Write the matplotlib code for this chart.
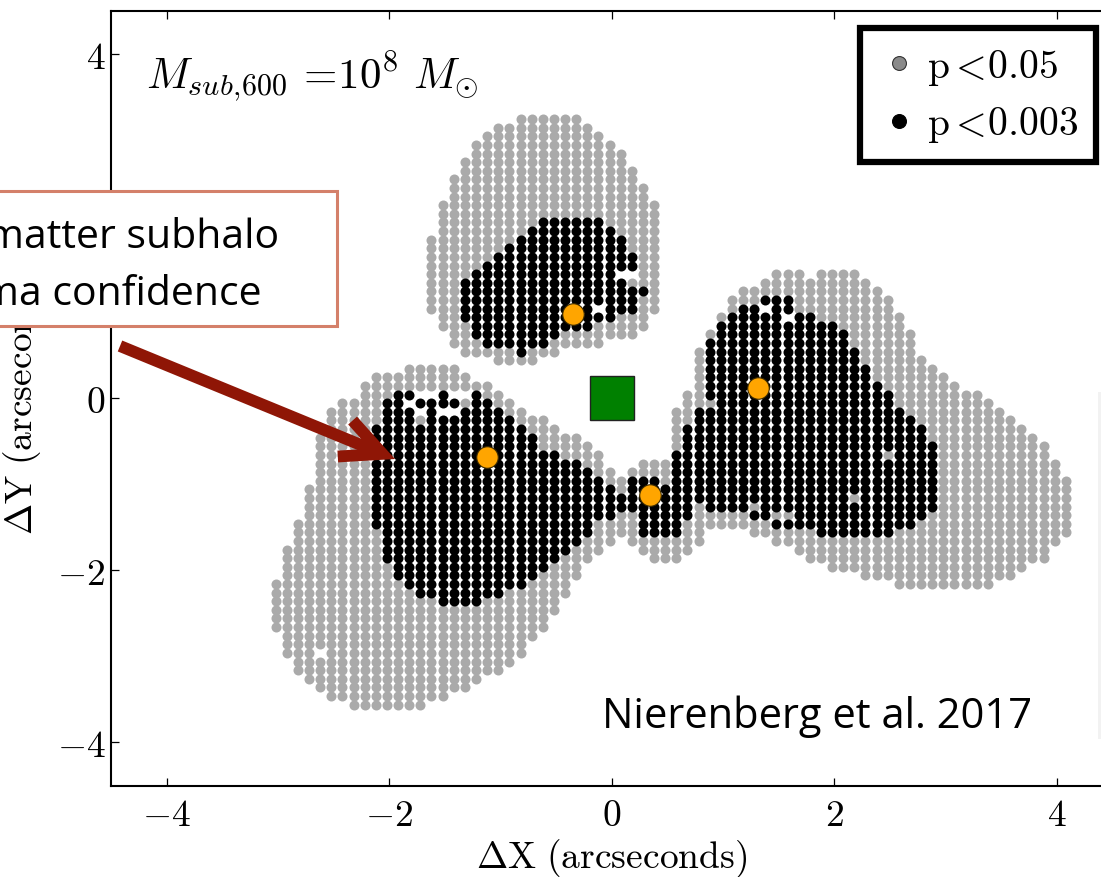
import numpy as np
import matplotlib
matplotlib.use("Agg")
import matplotlib.pyplot as plt
from matplotlib.lines import Line2D
from matplotlib.patches import Rectangle, FancyArrowPatch
from matplotlib.ticker import FuncFormatter

# ---- data (0.1" grid, one entry per column) ----
# lower region (left lobe + neck + right lobe), p < 0.05
low_x = [-3.0, -2.9, -2.8, -2.7, -2.6, -2.5, -2.4, -2.3, -2.2, -2.1, -2.0, -1.9,
         -1.8, -1.7, -1.6, -1.5, -1.4, -1.3, -1.2, -1.1, -1.0, -0.9, -0.8, -0.7,
         -0.6, -0.5, -0.4, -0.3, -0.2, -0.1, 0.0, 0.1, 0.2, 0.3, 0.4, 0.5,
         0.6, 0.7, 0.8, 0.9, 1.0, 1.1, 1.2, 1.3, 1.4, 1.5, 1.6, 1.7,
         1.8, 1.9, 2.0, 2.1, 2.2, 2.3, 2.4, 2.5, 2.6, 2.7, 2.8, 2.9,
         3.0, 3.1, 3.2, 3.3, 3.4, 3.5, 3.6, 3.7, 3.8, 3.9, 4.0, 4.1]
low_gray_lo = [-2.7, -3.0, -3.2, -3.3, -3.4, -3.5, -3.5, -3.6, -3.6, -3.6, -3.6, -3.6,
               -3.6, -3.6, -3.5, -3.5, -3.4, -3.4, -3.3, -3.2, -3.2, -3.1, -3.0, -2.8,
               -2.7, -2.5, -2.3, -2.1, -1.9, -1.8, -1.7, -1.6, -1.7, -1.8, -1.9, -1.9,
               -1.9, -1.8, -1.7, -1.5, -1.5, -1.5, -1.5, -1.6, -1.6, -1.7, -1.7, -1.8,
               -1.9, -1.9, -2.0, -2.0, -2.0, -2.1, -2.1, -2.1, -2.2, -2.2, -2.2, -2.2,
               -2.2, -2.2, -2.2, -2.2, -2.2, -2.1, -2.1, -2.0, -1.9, -1.9, -1.7, -1.6]
low_gray_hi = [-2.2, -1.8, -1.5, -1.1, -0.5, -0.2, -0.1, -0.1, 0.1, 0.2, 0.2, 0.2,
               0.3, 0.3, 0.3, 0.3, 0.3, 0.2, 0.1, 0.1, 0.0, -0.1, -0.2, -0.3,
               -0.3, -0.4, -0.5, -0.5, -0.6, -0.7, -0.9, -1.0, -0.9, -0.8, -0.8, -0.8,
               -0.2, 0.0, 0.5, 0.7, 0.9, 1.1, 1.2, 1.2, 1.3, 1.4, 1.4, 1.4,
               1.3, 1.4, 1.4, 1.4, 1.4, 1.3, 1.2, 1.1, 0.9, 0.7, 0.4, 0.3,
               0.2, 0.1, 0.0, 0.0, -0.1, -0.2, -0.3, -0.4, -0.5, -0.6, -0.8, -1.0]

# upper lobe, p < 0.05
top_x = [-1.6, -1.5, -1.4, -1.3, -1.2, -1.1, -1.0, -0.9, -0.8, -0.7, -0.6,
         -0.5, -0.4, -0.3, -0.2, -0.1, 0.0, 0.1, 0.2, 0.3, 0.4]
top_gray_lo = [1.0, 0.8, 0.6, 0.5, 0.5, 0.5, 0.4, 0.4, 0.4, 0.4, 0.5,
               0.5, 0.6, 0.6, 0.6, 0.6, 0.7, 0.7, 0.7, 0.8, 1.0]
top_gray_hi = [1.8, 2.2, 2.5, 2.7, 2.9, 3.0, 3.1, 3.1, 3.2, 3.2, 3.2,
               3.2, 3.2, 3.2, 3.1, 3.0, 2.9, 2.8, 2.6, 2.4, 2.2]

# upper lobe, p < 0.003
top_black_x = [-1.3, -1.2, -1.1, -1.0, -0.9, -0.8, -0.7, -0.6, -0.5,
               -0.4, -0.3, -0.2, -0.1, 0.0, 0.1, 0.2, 0.3]
top_black_lo = [0.9, 0.7, 0.6, 0.6, 0.6, 0.5, 0.6, 0.6, 0.7,
                0.8, 0.8, 0.8, 0.9, 0.9, 1.0, 1.0, 1.2]
top_black_hi = [1.3, 1.4, 1.5, 1.6, 1.7, 1.8, 1.9, 2.0, 2.0,
                2.0, 2.0, 2.0, 2.0, 1.9, 1.8, 1.6, 1.2]

# lower region, p < 0.003
low_black_x = [-2.1, -2.0, -1.9, -1.8, -1.7, -1.6, -1.5, -1.4, -1.3, -1.2, -1.1,
               -1.0, -0.9, -0.8, -0.7, -0.6, -0.5, -0.4, -0.3, -0.2, -0.1, 0.0,
               0.1, 0.2, 0.3, 0.4, 0.5, 0.6, 0.7, 0.8, 0.9, 1.0, 1.1,
               1.2, 1.3, 1.4, 1.5, 1.6, 1.7, 1.8, 1.9, 2.0, 2.1,
               2.2, 2.3, 2.4, 2.5, 2.6, 2.7, 2.8, 2.9]
low_black_lo = [-1.5, -1.9, -2.1, -2.2, -2.3, -2.3, -2.4, -2.4, -2.4, -2.4, -2.3,
                -2.3, -2.2, -2.2, -2.1, -2.0, -1.9, -1.8, -1.7, -1.6, -1.4, -1.4,
                -1.3, -1.3, -1.6, -1.6, -1.6, -1.6, -1.4, -1.2, -1.3, -1.3, -1.3,
                -1.3, -1.4, -1.4, -1.5, -1.5, -1.5, -1.5, -1.6, -1.6, -1.6,
                -1.6, -1.6, -1.6, -1.6, -1.5, -1.5, -1.4, -1.3]
low_black_hi = [-0.4, -0.1, 0.0, -0.2, -0.4, -0.3, -0.3, -0.3, -0.2, 0.0, -0.1,
                -0.2, -0.3, -0.4, -0.5, -0.7, -0.7, -0.8, -0.8, -0.9, -1.0, -1.1,
                -1.2, -1.0, -1.0, -1.0, -1.1, -0.7, -0.4, -0.2, 0.6, 0.8, 0.9,
                1.0, 1.0, 1.1, 1.1, 1.1, 0.9, 0.9, 0.8, 0.8, 0.7,
                0.5, 0.3, 0.1, 0.0, -0.2, -0.3, -0.4, -0.6]

# isolated cells
extra_black = [(-1.8, 0.0), (-1.7, -0.1), (-1.6, -0.1), (-1.6, -0.2),
               (-1.5, 0.0), (-1.5, -0.1), (-1.4, -0.1)]
gray_spots = [(0.9, -0.1), (2.5, -0.7), (2.2, -1.2), (1.3, -1.3),
              (1.5, -1.4), (1.6, -1.4), (0.2, 1.3)]
white_spots = [(-1.8, -0.1), (-1.7, 0.0), (-1.7, -0.2), (-1.6, 0.0),
               (-1.5, -0.2), (-1.4, 0.0), (-1.4, -0.2), (-1.3, 0.0),
               (-0.1, 1.0), (0.1, 1.4), (0.2, 1.4), (1.6, 0.9), (1.4, 1.0),
               (-2.6, -3.0)]

# lensed images and lens centre
image_x = [-0.35, 1.31, -1.12, 0.34]
image_y = [0.98, 0.12, -0.68, -1.12]
lens_x = [0.0]
lens_y = [0.0]

legend_labels = [r'$\mathrm{p}<\!0.05$', r'$\mathrm{p}<\!0.003$']


def cells(xs, lo, hi):
    out = set()
    for x, a, b in zip(xs, lo, hi):
        for r in range(int(round(a * 10)), int(round(b * 10)) + 1):
            out.add((int(round(x * 10)), r))
    return out


def key(pts):
    return {(int(round(x * 10)), int(round(y * 10))) for x, y in pts}


black = cells(low_black_x, low_black_lo, low_black_hi) | cells(top_black_x, top_black_lo, top_black_hi)
black |= key(extra_black)
black -= key(gray_spots) | key(white_spots)
gray = cells(low_x, low_gray_lo, low_gray_hi) | cells(top_x, top_gray_lo, top_gray_hi)
gray |= key(gray_spots)
gray -= black | key(white_spots)

# grid sits slightly off the round values
dx, dy = -0.02, 0.04
gx = np.array([c[0] for c in sorted(gray)]) / 10 + dx
gy = np.array([c[1] for c in sorted(gray)]) / 10 + dy
bx = np.array([c[0] for c in sorted(black)]) / 10 + dx
by = np.array([c[1] for c in sorted(black)]) / 10 + dy

plt.rcParams['mathtext.fontset'] = 'cm'
W, H = 1101, 878
fig = plt.figure(figsize=(W / 100, H / 100), dpi=100)


def fx(px):
    return px / W


def fy(py):
    return 1 - py / H


ax = fig.add_axes([fx(111), fy(786.5), (1112.5 - 111) / W, (786.5 - 11.7) / H])
ax.scatter(gx, gy, s=52, c='#aaaaaa', linewidths=0, zorder=2)
ax.scatter(bx, by, s=52, c='black', linewidths=0, zorder=3)
ax.plot(lens_x, lens_y, 's', ms=32, mfc='#008000', mec='#222222', mew=1, zorder=4)
ax.plot(image_x, image_y, 'o', ms=15.5, mfc='#ffa500', mec='#3b2a00', mew=0.8, zorder=5)

ax.set_xlim(-4.5, 4.5)
ax.set_ylim(-4.5, 4.5)
ax.set_xticks([-4, -2, 0, 2, 4])
ax.set_yticks([-4, -2, 0, 2, 4])
fmt = FuncFormatter(lambda v, p: r'$%g$' % v)
ax.xaxis.set_major_formatter(fmt)
ax.yaxis.set_major_formatter(fmt)
ax.tick_params(direction='in', length=6, width=0.9, top=True, right=True, labelsize=27)
ax.tick_params(axis='x', pad=8)
ax.tick_params(axis='y', pad=4)
for s in ax.spines.values():
    s.set_linewidth(1.5)

ax.set_xlabel(r'$\Delta\mathrm{X\ (arcseconds)}$', fontsize=27)
ax.set_ylabel(r'$\Delta\mathrm{Y\ (arcseconds)}$', fontsize=27)
ax.xaxis.set_label_coords(0.5, (786.5 - 837) / 774.8)
ax.yaxis.set_label_coords((44 - 111) / 1001.5, 0.5)

handles = [Line2D([], [], marker='o', ls='', ms=10, mfc='#8a8a8a', mec='#333333', mew=0.8),
           Line2D([], [], marker='o', ls='', ms=10, mfc='black', mec='black', mew=0.8)]
leg = ax.legend(handles, legend_labels, loc='upper right', bbox_to_anchor=(fx(1096), fy(29)),
                bbox_transform=fig.transFigure, borderaxespad=0, fontsize=28.5, fancybox=False,
                framealpha=1, edgecolor='black', handlelength=1.1, handletextpad=0.15,
                borderpad=0.45, labelspacing=0.42)
leg.get_frame().set_linewidth(4.5)

fig.text(fx(146), fy(88), r'$M_{sub,\!600}\,=\!10^8\ M_{\odot}$', fontsize=31,
         ha='left', va='baseline')
fig.text(fx(602), fy(728), 'Nierenberg et al. 2017', fontsize=30, family='Open Sans',
         ha='left', va='baseline', zorder=6)

# callout box and arrow from the slide
fig.add_artist(Rectangle((fx(-10), fy(327)), 347 / W, 135 / H, transform=fig.transFigure,
                         facecolor='white', edgecolor='#d4806a', lw=2.2, zorder=5))
fig.text(fx(279), fy(248), 'matter subhalo', fontsize=29.5, family='Open Sans',
         ha='right', va='baseline', zorder=6)
fig.text(fx(262), fy(305), 'ma confidence', fontsize=29.5, family='Open Sans',
         ha='right', va='baseline', zorder=6)
fig.add_artist(FancyArrowPatch((fx(120), fy(347)), (fx(395), fy(460)), transform=fig.transFigure,
                               arrowstyle='->,head_length=29,head_width=14', mutation_scale=1,
                               lw=8.5, color='#8f1606', shrinkA=0, shrinkB=0,
                               capstyle='butt', joinstyle='miter', zorder=7))

# edge of the neighbouring panel on the slide
fig.add_artist(Rectangle((fx(1098), fy(740)), 5 / W, 347 / H, transform=fig.transFigure,
                         facecolor='#f2f2f2', edgecolor='none', zorder=1))

fig.savefig('out.png', dpi=100)
